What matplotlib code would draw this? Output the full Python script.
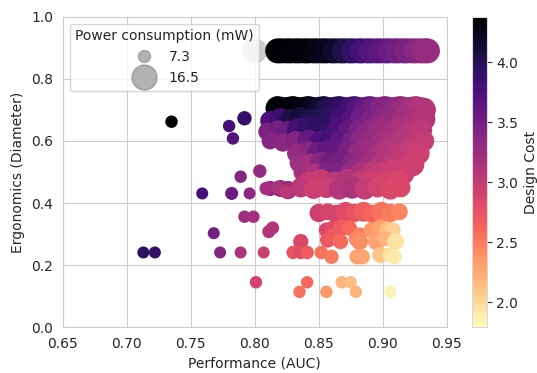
import numpy as np
import matplotlib.pyplot as plt
import seaborn as sns
from matplotlib.lines import Line2D
from matplotlib.colors import Normalize

# design points, one line per band
auc = [
    0.800,
    0.818, 0.825, 0.832, 0.839, 0.846, 0.853, 0.860, 0.867, 0.874, 0.881, 0.888, 0.895, 0.902, 0.909, 0.916, 0.923, 0.930, 0.935,
    0.821, 0.828, 0.835, 0.842, 0.849, 0.856, 0.863, 0.870, 0.877, 0.884, 0.891, 0.898, 0.905, 0.912, 0.919, 0.926, 0.933,
    0.818, 0.824, 0.830, 0.836, 0.842, 0.848, 0.854, 0.860, 0.866, 0.872, 0.878, 0.884, 0.890, 0.896, 0.902, 0.908, 0.914, 0.920, 0.926, 0.932,
    0.821, 0.827, 0.833, 0.839, 0.845, 0.851, 0.857, 0.863, 0.869, 0.875, 0.881, 0.887, 0.893, 0.899, 0.905, 0.911, 0.917, 0.923, 0.929,
    0.812, 0.820, 0.828, 0.836, 0.844, 0.852, 0.860, 0.868, 0.876, 0.884, 0.892, 0.900, 0.908, 0.916, 0.924, 0.932,
    0.810, 0.818, 0.826, 0.834, 0.842, 0.850, 0.858, 0.866, 0.874, 0.882, 0.890, 0.898, 0.906, 0.914, 0.922, 0.930,
    0.812, 0.822, 0.832, 0.842, 0.852, 0.860, 0.868, 0.876, 0.884, 0.892, 0.900, 0.908, 0.916, 0.924, 0.932,
    0.833, 0.842, 0.850, 0.858, 0.866, 0.874, 0.882, 0.890, 0.898, 0.906, 0.914, 0.922, 0.928,
    0.835, 0.844, 0.852, 0.860, 0.868, 0.876, 0.884, 0.892, 0.900, 0.908, 0.916, 0.923,
    0.838, 0.848, 0.858, 0.868, 0.876, 0.884, 0.892, 0.900, 0.908, 0.916,
    0.842, 0.852, 0.862, 0.872, 0.882, 0.892, 0.902, 0.912,
    0.812, 0.820, 0.826, 0.836, 0.846, 0.856, 0.866, 0.876, 0.886, 0.896, 0.906, 0.914,
    0.850, 0.857, 0.864, 0.871, 0.878, 0.885, 0.892, 0.899, 0.906, 0.913,
    0.856, 0.861, 0.868, 0.874, 0.882, 0.891, 0.898, 0.904, 0.908,
    0.836, 0.857, 0.861, 0.867, 0.880, 0.882, 0.895, 0.902, 0.910,
    0.830, 0.836, 0.841, 0.852, 0.860, 0.880, 0.884, 0.898, 0.906, 0.909,
    0.801, 0.841, 0.835, 0.856, 0.868, 0.875, 0.879, 0.906,
    0.735, 0.780, 0.792, 0.783, 0.789, 0.804, 0.759, 0.782, 0.796, 0.809, 0.818, 0.825,
    0.792, 0.799, 0.768, 0.713, 0.722, 0.773, 0.789, 0.807, 0.811, 0.814,
]
diameter = [
    0.890,
    0.890, 0.890, 0.890, 0.890, 0.890, 0.890, 0.890, 0.890, 0.890, 0.890, 0.890, 0.890, 0.890, 0.890, 0.890, 0.890, 0.890, 0.890,
    0.890, 0.890, 0.890, 0.890, 0.890, 0.890, 0.890, 0.890, 0.890, 0.890, 0.890, 0.890, 0.890, 0.890, 0.890, 0.890, 0.890,
    0.705, 0.700, 0.705, 0.700, 0.705, 0.700, 0.705, 0.700, 0.705, 0.700, 0.705, 0.700, 0.705, 0.700, 0.705, 0.700, 0.705, 0.700, 0.705, 0.700,
    0.702, 0.703, 0.702, 0.703, 0.702, 0.703, 0.702, 0.703, 0.702, 0.703, 0.702, 0.703, 0.702, 0.703, 0.702, 0.703, 0.702, 0.703, 0.702,
    0.665, 0.670, 0.665, 0.670, 0.665, 0.670, 0.665, 0.670, 0.665, 0.670, 0.665, 0.670, 0.665, 0.670, 0.665, 0.670,
    0.630, 0.635, 0.630, 0.635, 0.640, 0.635, 0.630, 0.635, 0.630, 0.635, 0.630, 0.635, 0.630, 0.635, 0.630, 0.635,
    0.600, 0.595, 0.600, 0.600, 0.595, 0.600, 0.600, 0.595, 0.600, 0.600, 0.595, 0.600, 0.600, 0.595, 0.600,
    0.560, 0.565, 0.560, 0.565, 0.560, 0.565, 0.560, 0.565, 0.560, 0.565, 0.560, 0.565, 0.560,
    0.530, 0.525, 0.530, 0.525, 0.530, 0.525, 0.530, 0.525, 0.530, 0.525, 0.530, 0.525,
    0.500, 0.495, 0.500, 0.495, 0.500, 0.495, 0.500, 0.495, 0.500, 0.495,
    0.470, 0.475, 0.470, 0.475, 0.470, 0.475, 0.470, 0.475,
    0.447, 0.447, 0.442, 0.450, 0.445, 0.450, 0.445, 0.450, 0.445, 0.450, 0.445, 0.450,
    0.368, 0.372, 0.365, 0.372, 0.368, 0.372, 0.365, 0.372, 0.368, 0.372,
    0.313, 0.319, 0.322, 0.319, 0.297, 0.313, 0.320, 0.313, 0.313,
    0.276, 0.281, 0.290, 0.276, 0.285, 0.276, 0.276, 0.286, 0.276,
    0.241, 0.241, 0.241, 0.241, 0.227, 0.227, 0.227, 0.233, 0.233, 0.227,
    0.145, 0.145, 0.114, 0.114, 0.145, 0.145, 0.114, 0.114,
    0.662, 0.648, 0.673, 0.608, 0.485, 0.503, 0.431, 0.431, 0.431, 0.447, 0.450, 0.436,
    0.356, 0.356, 0.303, 0.241, 0.241, 0.241, 0.241, 0.241, 0.308, 0.320,
]
cost = [
    np.nan,
    4.38, 4.36, 4.35, 4.33, 4.30, 4.26, 4.22, 4.10, 3.98, 3.85, 3.75, 3.70, 3.62, 3.55, 3.48, 3.40, 3.32, 3.25,
    4.37, 4.35, 4.34, 4.31, 4.28, 4.24, 4.16, 4.04, 3.92, 3.80, 3.72, 3.66, 3.58, 3.52, 3.44, 3.36, 3.28,
    4.30, 4.35, 4.32, 4.30, 4.28, 4.20, 4.10, 4.00, 3.95, 3.88, 3.75, 3.65, 3.55, 3.45, 3.40, 3.35, 3.30, 3.22, 3.15, 3.08,
    4.33, 4.33, 4.31, 4.29, 4.24, 4.15, 4.05, 3.97, 3.92, 3.82, 3.70, 3.60, 3.50, 3.42, 3.38, 3.32, 3.26, 3.18, 3.12,
    3.75, 3.85, 4.05, 4.10, 4.05, 4.00, 3.95, 3.80, 3.70, 3.55, 3.45, 3.35, 3.30, 3.20, 3.15, 3.10,
    3.45, 3.50, 3.55, 3.80, 3.90, 3.95, 3.90, 3.75, 3.60, 3.45, 3.35, 3.25, 3.20, 3.15, 3.10, 3.05,
    3.40, 3.35, 3.40, 3.60, 3.75, 3.80, 3.65, 3.50, 3.35, 3.30, 3.20, 3.15, 3.10, 3.05, 3.00,
    3.30, 3.35, 3.55, 3.65, 3.60, 3.45, 3.30, 3.25, 3.15, 3.10, 3.05, 3.00, 2.95,
    3.25, 3.20, 3.40, 3.55, 3.50, 3.40, 3.30, 3.20, 3.10, 3.05, 3.00, 2.95,
    3.20, 3.15, 3.45, 3.45, 3.30, 3.15, 3.05, 3.00, 2.95, 2.95,
    3.00, 2.98, 3.05, 3.10, 3.00, 2.95, 2.90, 2.85,
    3.30, 3.32, 3.25, 3.05, 2.95, 2.95, 3.10, 3.15, 3.00, 2.90, 2.85, 2.85,
    2.95, 2.88, 2.90, 2.82, 2.75, 2.68, 2.62, 2.55, 2.50, 2.45,
    2.85, 2.80, 2.70, 2.60, 2.50, 2.35, 2.30, 2.15, 2.05,
    2.85, 2.75, 2.70, 2.60, 2.45, 2.40, 2.30, 2.20, 1.95,
    2.75, 2.80, 2.70, 2.55, 2.50, 2.30, 2.28, 2.10, 1.95, 1.90,
    2.90, 2.60, 2.55, 2.35, 2.20, 2.15, 2.20, 1.85,
    4.35, 3.80, 3.90, 3.70, 3.40, 3.30, 3.80, 3.55, 3.35, 3.20, 3.15, 3.05,
    3.25, 3.20, 3.50, 3.95, 3.90, 3.40, 3.15, 2.95, 3.10, 3.10,
]
power = [
    16.5,
    16.5, 16.5, 16.5, 16.5, 16.5, 16.5, 16.5, 16.5, 16.5, 16.5, 16.5, 16.5, 16.5, 16.5, 16.5, 16.5, 16.5, 16.5,
    16.5, 16.5, 16.5, 16.5, 16.5, 16.5, 16.5, 16.5, 16.5, 16.5, 16.5, 16.5, 16.5, 16.5, 16.5, 16.5, 16.5,
    16.0, 16.0, 16.0, 16.0, 16.0, 16.0, 16.0, 16.0, 16.0, 16.0, 16.0, 16.0, 16.0, 16.0, 16.0, 16.0, 16.0, 16.0, 16.0, 16.0,
    16.0, 16.0, 16.0, 16.0, 16.0, 16.0, 16.0, 16.0, 16.0, 16.0, 16.0, 16.0, 16.0, 16.0, 16.0, 16.0, 16.0, 16.0, 16.0,
    12.0, 14.0, 15.0, 16.0, 15.0, 14.0, 16.0, 15.0, 14.0, 16.0, 15.0, 14.0, 16.0, 15.0, 14.0, 15.0,
    11.0, 12.0, 13.0, 15.0, 16.0, 15.0, 14.0, 16.0, 15.0, 14.0, 16.0, 15.0, 14.0, 16.0, 15.0, 14.0,
    10.0, 11.0, 12.0, 14.0, 15.0, 16.0, 15.0, 14.0, 16.0, 15.0, 14.0, 16.0, 15.0, 14.0, 13.0,
    12.0, 13.0, 15.0, 16.0, 15.0, 14.0, 16.0, 15.0, 14.0, 16.0, 15.0, 16.0, 14.0,
    12.0, 13.0, 14.0, 15.0, 16.0, 14.0, 15.0, 16.0, 14.0, 15.0, 16.0, 16.0,
    12.0, 13.0, 14.0, 15.0, 14.0, 15.0, 14.0, 15.0, 16.0, 14.0,
    12.0, 13.0, 12.0, 14.0, 13.0, 14.0, 13.0, 12.0,
    9.0, 10.0, 11.0, 12.0, 12.0, 13.0, 13.0, 14.0, 13.0, 12.0, 13.0, 12.0,
    11.0, 10.0, 11.0, 12.0, 11.0, 12.0, 11.0, 12.0, 11.0, 10.0,
    9.0, 9.0, 10.0, 9.0, 9.0, 9.0, 10.0, 10.0, 9.0,
    9.0, 9.0, 10.0, 9.0, 10.0, 10.0, 10.0, 9.0, 10.0,
    8.0, 8.0, 8.0, 8.0, 8.5, 9.0, 9.0, 9.5, 9.0, 9.0,
    7.5, 7.5, 7.5, 7.5, 7.5, 7.5, 7.5, 7.5,
    7.5, 7.5, 8.5, 7.5, 7.5, 8.0, 7.3, 7.8, 7.3, 8.0, 8.0, 8.0,
    7.5, 7.5, 7.3, 7.3, 7.3, 7.3, 7.3, 7.3, 7.8, 7.8,
]
legend_power = [7.3, 16.5]
cbar_ticks = [2.0, 2.5, 3.0, 3.5, 4.0]


def marker_area(p):
    return 75 + 27.07 * (np.asarray(p) - 7.3)


sns.set_style("whitegrid")
plt.rcParams['font.family'] = ['DejaVu Sans']
plt.rcParams['font.size'] = 10

fig = plt.figure(figsize=(5.37, 3.73), dpi=100)
ax = fig.add_axes([0.1168, 0.1225, 0.715, 0.8327])
cax = fig.add_axes([0.8784, 0.1225, 0.028, 0.8327])

cmap = plt.get_cmap('magma_r').copy()
cmap.set_bad('#cccccc')
sc = ax.scatter(auc, diameter, c=cost, s=marker_area(power), cmap=cmap,
                norm=Normalize(1.79, 4.38), linewidths=0, plotnonfinite=True)

ax.set_xlim(0.65, 0.95)
ax.set_ylim(0, 1)
ax.set_xticks(np.arange(0.65, 0.951, 0.05))
ax.set_xticklabels(['%.2f' % t for t in np.arange(0.65, 0.951, 0.05)])
ax.set_yticks(np.arange(0, 1.01, 0.2))
ax.set_yticklabels(['%.1f' % t for t in np.arange(0, 1.01, 0.2)])
ax.tick_params(labelsize=10)
ax.set_xlabel('Performance (AUC)', fontsize=10)
ax.set_ylabel('Ergonomics (Diameter)', fontsize=10)

handles = [Line2D([], [], ls='', marker='o', markersize=np.sqrt(marker_area(p)),
                  markerfacecolor='gray', markeredgecolor='gray', alpha=0.6)
           for p in legend_power]
ax.legend(handles, [str(p) for p in legend_power], title='Power consumption (mW)',
          loc='upper left', fontsize=10, title_fontsize=10)

cb = fig.colorbar(sc, cax=cax)
cb.set_ticks(cbar_ticks)
cb.set_label('Design Cost', fontsize=10)
cb.ax.tick_params(labelsize=10)
cb.outline.set_edgecolor('0.85')

fig.savefig('out.png', dpi=100)
